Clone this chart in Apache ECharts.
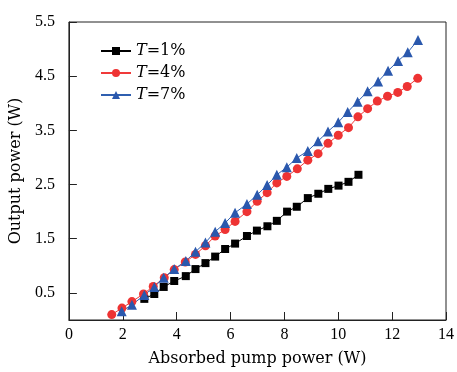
<!DOCTYPE html>
<html>
<head>
<meta charset="utf-8">
<script src="https://cdn.jsdelivr.net/npm/echarts@6/dist/echarts.min.js"></script>
<style>
  html, body { margin: 0; padding: 0; background: #fff; }
  #chart { width: 457px; height: 372px; }
</style>
</head>
<body>
<div id="chart"></div>
<script>
// T = 1%
const pumpT1 = [2.80, 3.17, 3.52, 3.91, 4.34, 4.70, 5.07, 5.43, 5.80, 6.17, 6.61, 6.98, 7.37, 7.72, 8.10, 8.46, 8.87, 9.26, 9.63, 10.01, 10.38, 10.75];
const outT1 = [0.39, 0.48, 0.61, 0.72, 0.81, 0.94, 1.05, 1.17, 1.31, 1.41, 1.55, 1.65, 1.73, 1.83, 2.00, 2.09, 2.25, 2.33, 2.42, 2.48, 2.55, 2.68];

// T = 4%
const pumpT4 = [1.59, 1.97, 2.34, 2.77, 3.13, 3.54, 3.91, 4.32, 4.70, 5.07, 5.43, 5.80, 6.17, 6.61, 6.99, 7.36, 7.72, 8.09, 8.48, 8.87, 9.25, 9.62, 10.00, 10.38, 10.73, 11.09, 11.45, 11.83, 12.21, 12.56, 12.95];
const outT4 = [0.10, 0.22, 0.34, 0.48, 0.62, 0.78, 0.93, 1.07, 1.21, 1.37, 1.55, 1.67, 1.82, 2.00, 2.19, 2.35, 2.53, 2.65, 2.79, 2.95, 3.07, 3.26, 3.41, 3.55, 3.75, 3.90, 4.04, 4.13, 4.20, 4.31, 4.46];

// T = 7%
const pumpT7 = [1.96, 2.34, 2.80, 3.17, 3.52, 3.91, 4.34, 4.70, 5.07, 5.43, 5.80, 6.17, 6.61, 6.99, 7.36, 7.72, 8.09, 8.46, 8.87, 9.25, 9.62, 10.00, 10.35, 10.72, 11.09, 11.48, 11.85, 12.22, 12.58, 12.96];
const outT7 = [0.16, 0.28, 0.46, 0.61, 0.78, 0.94, 1.09, 1.26, 1.43, 1.63, 1.79, 1.98, 2.14, 2.31, 2.49, 2.68, 2.82, 2.99, 3.12, 3.30, 3.48, 3.65, 3.84, 4.03, 4.22, 4.40, 4.60, 4.78, 4.94, 5.17];

const seriesNames = ['T1', 'T4', 'T7'];
const legendLabels = ['{i|T}=1%', '{i|T}=4%', '{i|T}=7%'];
const yTicks = [0.5, 1.5, 2.5, 3.5, 4.5, 5.5];

const pairs = (xs, ys) => xs.map((x, i) => [x, ys[i]]);

const font = 'Liberation Serif';
const wideFont = 'DejaVu Serif';
const chart = echarts.init(document.getElementById('chart'));

const option = {
  animation: false,
  grid: {
    left: 67, right: 11, top: 22, bottom: 48,
    show: true, borderColor: '#222', borderWidth: 1
  },
  legend: {
    left: 95, top: 38,
    orient: 'vertical',
    itemWidth: 30, itemHeight: 10, itemGap: 6,
    data: seriesNames,
    formatter: name => legendLabels[seriesNames.indexOf(name)],
    textStyle: {
      fontFamily: wideFont, fontSize: 16, color: '#000',
      rich: { i: { fontFamily: wideFont, fontStyle: 'italic', fontSize: 16, color: '#000' } }
    }
  },
  xAxis: {
    type: 'value', min: 0, max: 14, interval: 2,
    name: 'Absorbed pump power (W)', nameLocation: 'middle', nameGap: 31,
    nameTextStyle: { fontFamily: wideFont, fontSize: 16, color: '#000' },
    axisLine: { lineStyle: { color: '#222', width: 1 } },
    axisTick: { inside: true, length: 8, lineStyle: { color: '#222' } },
    axisLabel: { fontFamily: font, fontSize: 16, color: '#000', margin: 7 },
    splitLine: { show: false }
  },
  yAxis: {
    type: 'value', min: 0, max: 5.5,
    name: 'Output power (W)', nameLocation: 'middle', nameGap: 36,
    nameTextStyle: { fontFamily: wideFont, fontSize: 16, color: '#000' },
    axisLine: { show: true, lineStyle: { color: '#222', width: 1 } },
    axisTick: { inside: true, length: 8, customValues: yTicks, lineStyle: { color: '#222' } },
    axisLabel: { fontFamily: font, fontSize: 16, color: '#000', margin: 14, customValues: yTicks },
    splitLine: { show: false }
  },
  series: [
    {
      name: 'T1', type: 'line', data: pairs(pumpT1, outT1),
      symbol: 'rect', symbolSize: 8,
      lineStyle: { color: '#000', width: 1 },
      itemStyle: { color: '#000' }
    },
    {
      name: 'T4', type: 'line', data: pairs(pumpT4, outT4),
      symbol: 'circle', symbolSize: 9,
      lineStyle: { color: '#f03a3a', width: 1 },
      itemStyle: { color: '#ee3333' }
    },
    {
      name: 'T7', type: 'line', data: pairs(pumpT7, outT7),
      symbol: 'triangle', symbolSize: 10,
      lineStyle: { color: '#2f5fb0', width: 1 },
      itemStyle: { color: '#2a58ad' }
    }
  ]
};

chart.setOption(option);
</script>
</body>
</html>
